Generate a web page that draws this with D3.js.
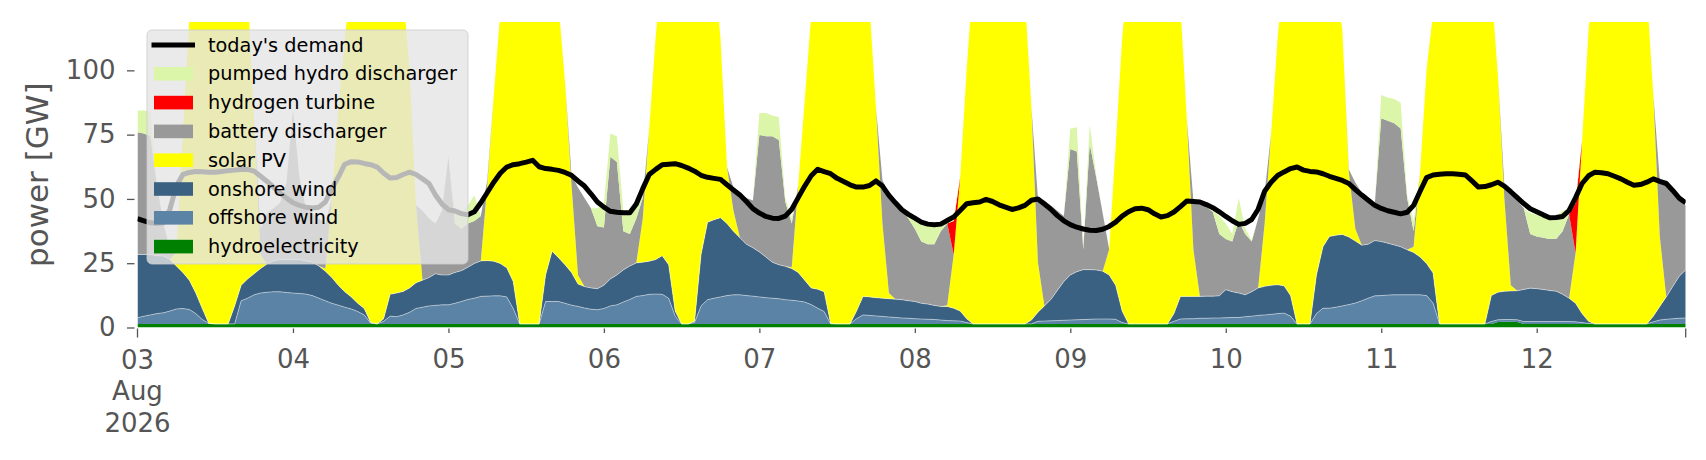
<!DOCTYPE html>
<html>
<head>
<meta charset="utf-8">
<script src="https://cdn.jsdelivr.net/npm/d3@7"></script>
<style>
  body { margin: 0; background: #fff; }
  svg { display: block; font-family: "DejaVu Sans", sans-serif; }
</style>
</head>
<body>
<svg id="chart" width="1706" height="460"></svg>
<script>
// hourly generation (GW), 03 Aug 2026 00:00 .. 12 Aug 23:00, one row per day
const hydro = [
  1.4,1.4,1.4,1.4,1.4,1.4,1.4,1.4,1.4,1.4,1.4,1.4,1.4,1.4,1.4,1.4,1.4,1.4,1.4,1.4,1.4,1.4,1.4,1.4,
  1.4,1.4,1.4,1.4,1.4,1.4,1.4,1.4,1.4,1.4,1.4,1.4,1.4,1.4,1.4,1.4,1.4,1.4,1.4,1.4,1.4,1.4,1.4,1.4,
  1.4,1.4,1.4,1.4,1.4,1.4,1.4,1.4,1.4,1.4,1.4,1.4,1.4,1.4,1.4,1.4,1.4,1.4,1.4,1.4,1.4,1.4,1.4,1.4,
  1.4,1.4,1.4,1.4,1.4,1.4,1.4,1.4,1.4,1.4,1.4,1.4,1.4,1.4,1.4,1.4,1.4,1.4,1.4,1.4,1.4,1.4,1.4,1.4,
  1.4,1.4,1.4,1.4,1.4,1.4,1.4,1.4,1.4,1.4,1.4,1.4,1.4,1.4,1.4,1.4,1.4,1.4,1.4,1.4,1.4,1.4,1.4,1.4,
  1.4,1.4,1.4,1.4,1.4,1.4,1.4,1.4,1.4,1.4,1.4,1.4,1.4,1.4,1.4,1.4,1.4,1.4,1.4,1.4,1.4,1.4,1.4,1.4,
  1.4,1.4,1.4,1.4,1.4,1.4,1.4,1.4,1.4,1.4,1.4,1.4,1.4,1.4,1.4,1.4,1.4,1.4,1.4,1.4,1.4,1.4,1.4,1.4,
  1.4,1.4,1.4,1.4,1.4,1.4,1.4,1.4,1.4,1.4,1.4,1.4,1.4,1.4,1.4,1.4,1.4,1.4,1.4,1.4,1.4,1.4,1.4,1.4,
  1.4,1.4,1.4,1.4,1.4,1.4,1.4,1.4,1.4,1.4,1.4,1.4,1.4,1.4,1.4,1.4,1.4,1.4,2.1,2.2,2.2,2.1,1.4,1.4,
  1.4,1.4,1.4,1.4,1.4,1.4,1.4,1.4,1.4,1.4,1.4,1.4,1.4,1.4,1.4,1.4,1.4,1.4,1.4,1.4,1.4,1.4,1.4,1.4
];
const offshore = [
  2.4,3.0,3.5,4.0,4.3,5.0,5.8,6.0,5.6,4.0,1.7,0.2,0,0,0,0,9.0,10.0,11.3,12.0,12.3,12.5,12.5,12.2,
  12.0,11.8,11.6,11.0,10.0,9.0,8.0,7.3,6.5,5.8,4.8,3.5,0.3,0,1.0,3.0,2.8,3.5,4.5,6.0,6.5,7.0,7.2,7.4,
  7.4,8.0,8.7,9.5,10.0,10.7,10.8,10.9,10.9,10.5,6.0,0,0,0,0,8.7,8.7,8.7,8.0,7.3,6.8,6.2,5.7,5.5,
  6.0,7.0,7.4,8.5,9.5,10.7,11.0,11.5,11.6,11.5,10.0,3.0,0,0,0.5,7.0,9.4,10.0,10.5,11.0,11.3,11.3,11.0,10.8,
  10.5,10.2,10.0,9.8,9.4,9.2,8.9,8.5,7.5,6.1,4.8,0,0,0,0,2.0,3.5,3.3,3.1,2.9,2.7,2.5,2.3,2.2,
  2.0,1.9,1.8,1.7,1.5,1.3,1.2,1.1,0.5,0,0,0,0,0,0,0,0,0,0,1.0,1.1,1.2,1.3,1.4,
  1.5,1.6,1.7,1.8,1.9,1.9,1.9,1.8,0.5,0,0,0,0,0,0,0,1.0,1.9,2.0,2.0,2.2,2.2,2.3,2.3,
  2.4,2.5,2.5,2.8,3.0,3.3,3.5,3.7,4.0,4.2,3.0,0,0,0,4.0,6.1,6.1,6.5,7.0,7.5,8.1,9.0,10.0,10.9,
  11.0,11.2,11.3,11.3,11.3,11.3,11.3,11.0,8.1,0,0,0,0,0,0,0,0,0.9,0.9,0.9,0.9,0.9,0.9,0.9,
  0.9,0.9,0.9,0.9,0.9,0.9,0.8,0.5,0.2,0,0,0,0,0,0,0,0,0,0.8,1.5,1.8,2.0,2.2,2.3
];
const onshore = [
  24.6,24.0,23.5,22.5,22.1,20.0,16.7,14.0,11.4,8.0,4.3,0,0,0,0,7.0,6.0,7.5,8.2,9.5,11.0,12.0,12.5,12.8,
  13.0,13.2,12.9,13.0,12.5,11.5,10.0,7.7,6.0,4.7,3.2,2.5,0.2,0,1.0,8.5,9.2,9.1,9.5,10.0,10.5,11.0,12.3,11.6,
  11.6,12.0,12.0,12.5,13.5,13.8,13.8,13.5,12.6,11.3,10.5,0,0,0,0,10.3,19.6,17.0,15.0,12.7,8.7,8.3,8.3,8.2,
  9.0,10.5,11.6,12.5,13.0,13.0,13.0,12.9,13.4,15.0,13.0,2.0,0,0,0.5,20.0,30.1,30.5,30.8,28.0,24.7,22.2,20.0,18.8,
  17.5,15.8,14.0,13.2,13.0,12.3,11.1,8.5,6.5,7.4,7.7,0.2,0,0,0,3.0,7.2,7.2,7.1,7.1,7.1,7.1,7.1,6.8,
  6.7,6.1,5.9,5.5,5.3,5.5,4.9,3.9,1.5,0,0,0,0,0,0,0,0,0,1.5,3.5,5.9,8.3,11.7,15.1,
  17.5,18.7,19.4,19.3,19.1,18.6,17.1,13.2,4.5,0,0,0,0,0,0,0,3.0,8.8,8.7,8.7,8.5,8.6,8.5,8.6,
  10.9,10.0,9.5,8.5,9.5,10.7,11.1,11.3,11.2,10.6,8.0,0,0,0,15.0,23.9,27.9,28.0,27.8,26.3,24.1,21.6,21.0,21.5,
  21.0,20.2,19.4,18.7,17.5,16.5,14.7,12.5,11.7,0,0,0,0,0,0,0,0,10.1,10.7,11.0,11.1,11.3,12.5,13.0,
  12.8,12.5,12.1,11.8,10.6,9.1,7.2,3.5,0.8,0,0,0,0,0,0,0,0,0,2.2,5.3,8.7,12.5,16.3,18.7
];
const solar = [
  0,0,0,0,0,0,5.5,54,102,132,153,169.8,172,170,165,152,140,112,60,5.5,0,0,0,0,
  0,0,0,0,0,1,31,69,98.5,123.5,145,155,160,162,160,150,140,116.4,85,30,0,0,0,0,
  0,0,0,0,0,0,29.4,64.6,97.5,135,150,162,165,165,160,150,138,98.3,71,34,3.5,0,0,0,
  0,0,0,0,0,0,17,51.6,87,112.5,130,150,160,165,163,140,130,98.5,69.7,22,8,0,0,0,
  0,0,0,0,0,0.5,34,70,106,130.5,150,160,165,165,160,150,140,113.5,73.8,29,2.2,0,0,0,
  0,0,0,0,0,0.5,20.9,52,97,134,150,160,165,165,160,155,145,127,82.5,19.5,0,0,0,0,
  0,0,0,0,0,0,10,54,106,139,150,160,165,165,160,150,140,113.3,68.3,18.3,0,0,0,0,
  0,0,0,0,0,0,24.4,59,95.8,124.2,138,150,160,165,160,150,140,99.5,79.2,25.2,4.8,0,0,0,
  0,0,0,0,0,2.2,33,75.5,101.2,145,155,162,165,165,160,150,140,120,84.6,36.3,2.2,0,0,0,
  0,0,0,0,0,0,19.6,67,113,144,155,162,165,165,160,155,145,129,86,27.2,0,0,0,0
];
const battery = [
  47.5,47,46,27.5,12.6,4,0,0,0,0,0,0,0,0,0,0,0,0,0,10,19.7,20.5,22,30,
  58,32,20.5,19,18.5,17.5,0,0,0,0,0,0,0,0,0,0,0,0,0,0,27,23,19.5,25,
  46,19,16.3,17,16.5,17.5,2,0,0,0,0,0,0,0,0,0,0,0,0,4,34,34.5,31,24.3,
  22.5,47.5,44,15,12.5,17.3,8,0,0,0,0,0,0,0,0,0,0,0,0,0,9,17,18,18.4,
  45.5,47,49,48.5,25.1,17,0,0,0,0,0,0,0,0,0,0,0,0,0,17,38.5,37.4,34.6,32,
  28.3,24,23.3,23.8,29.2,31.7,0,0,0,0,0,0,0,0,0,0,0,0,0,25,41,36.5,31,25.5,
  49,46.7,7.9,48.9,36,22.5,0,0,0,0,0,0,0,0,0,0,0,0,0,19,36.3,34.7,32.7,24.1,
  19.7,19.5,28,23.7,19.5,27,12,0,0,0,0,0,0,0,0,0,0,0,0,1,18,20.4,17.5,14.1,
  48,47.6,47.3,46,20.2,6,0,0,0,0,0,0,0,0,0,0,0,0,0,5,36,35,31.6,21.1,
  20.3,20.1,20,20.3,24.5,32.6,0,0,0,0,0,0,0,0,0,0,0,0,0,22,44,38,30.5,25
];
const hydrogen = [
  0,0,0,0,0,0,0,0,0,0,0,0,0,0,0,0,0,0,0,0,0,0,0,0,
  0,0,0,0,0,0,0,0,0,0,0,0,0,0,0,0,0,0,0,0,0,0,0,0,
  0,0,0,0,0,0,0,0,0,0,0,0,0,0,0,0,0,0,0,0,0,0,0,0,
  0,0,0,0,0,0,0,0,0,0,0,0,0,0,0,0,0,0,0,0,0,0,0,0,
  0,0,0,0,0,0,0,0,0,0,0,0,0,0,0,0,0,0,0,0,0,0,0,0,
  0,0,0,0,0,0,13,0,0,0,0,0,0,0,0,0,0,0,0,0,0,0,0,0,
  0,0,0,0,0,0,0,0,0,0,0,0,0,0,0,0,0,0,0,0,0,0,0,0,
  0,0,0,0,0,0,0,0,0,0,0,0,0,0,0,0,0,0,0,0,0,0,0,0,
  0,0,0,0,0,0,0,0,0,0,0,0,0,0,0,0,0,0,0,0,0,0,0,0,
  0,0,0,0,0,0,19.4,0,0,0,0,0,0,0,0,0,0,0,0,0,0,0,0,0
];
const pumped = [
  8.5,9,9.5,0,0,0,0,0,0,0,0,0,0,0,0,0,0,0,0,0,0,0,0,0,
  0,0,0,0,0,0,0,0,0,0,0,0,0,0,0,0,0,0,0,0,0,0,0,0,
  1,4,6,7,10,0,0,0,0,0,0,0,0,0,0,0,0,0,0,0,0,0,0,7,
  9.5,9,10,8,8,4,1,0,0,0,0,0,0,0,0,0,0,0,0,0,0,0,0,0,
  8.5,9,8,9,1.5,2,0,0,0,0,0,0,0,0,0,0,0,0,0,0,0,0,0,1,
  4,8,8.5,8,3,1.5,2,0,0,0,0,0,0,0,0,0,0,0,0,0,0,0,0,0,
  8,9.5,1,7.5,1,0,0,0,0,0,0,0,0,0,0,0,0,0,0,0,0,0,0.5,7,
  6,3,9,2,0.5,0,0,0,0,0,0,0,0,0,0,0,0,0,0,0,0,0,0,0,
  9,9,9.5,10,1,4,0,0,0,0,0,0,0,0,0,0,0,0,0,0,0,0,0,8,
  8.5,8.5,8.5,9,8,2.4,2,0,0,0,0,0,0,0,0,0,0,0,0,0,0,0,0,0
];
const demand = [
  42.3,41.5,40.7,40.5,40.7,46,55,59.5,60.3,60.7,60.6,60.4,60.4,60.7,61,61.2,61.4,61.5,60.8,58.8,56.8,54.6,52.3,50.3,
  48.5,47.5,46.8,46.5,46.8,48.8,54,58.5,63.5,64.5,64.4,63.8,63.3,62.4,60,58.1,58.3,59.5,60.4,59.5,57.8,56,51.5,48,
  45.8,45.3,44.3,43.8,45,48.5,52.5,56.5,60,62.4,63.3,63.7,64.3,65,62.5,61.8,61.5,61.1,60.3,59.2,57,55,52,48.8,
  46.8,45.2,44.8,44.6,44.6,48,54,59.5,61.5,63.3,63.5,63.7,63,62,60.8,59.2,58.4,58,57.6,55.5,53.5,51.5,49,46.2,
  44.5,43.2,42.5,42.4,43.3,46,50.5,55,59,61.5,60.6,59.8,58,56.8,55.5,54.6,54.6,55.2,57,55,51.4,48.5,45.8,44,
  42.5,41,40.2,40,40.2,41.6,43,45.5,48.1,48.5,48.8,49.8,49,47.7,46.8,45.9,46.5,47.5,49.5,50,48,46,43.5,41.5,
  40,39,38.3,37.8,37.7,38.2,39.3,41,43.3,45,46.2,46.4,45.8,44.2,43,43.5,44.9,47,49.2,49,48.8,47.8,46.6,45,
  43.2,41.5,40.1,40.5,42,46,53,56.5,59.1,60.5,61.8,62.4,61.2,60.7,60.5,59.8,58.8,58,57.2,56,53.6,51.5,49.5,47.5,
  46.3,45.4,44.8,44.2,44.8,47.5,53,58.3,59.3,59.6,59.8,59.8,59.6,59.3,57,54.6,54.8,55.5,56.5,55,52.8,50.5,48.2,46.2,
  45,43.8,42.7,42.8,43.2,45.5,50.5,56,59,60.4,60.2,59.8,58.8,57.8,56.5,55.3,55.6,56.5,57.8,56.8,56,53.3,50.3,48.5
];

const keys = ['hydro', 'offshore', 'onshore', 'solar', 'battery', 'hydrogen', 'pumped'];
const colors = {
  hydro: '#008000', offshore: '#5b83a6', onshore: '#3b6182', solar: '#ffff00',
  battery: '#999999', hydrogen: '#ff0000', pumped: '#dbf5a9'
};
// legend, top to bottom
const legendKeys = ['demand', 'pumped', 'hydrogen', 'battery', 'solar', 'onshore', 'offshore', 'hydro'];
const legendLabels = ["today's demand", 'pumped hydro discharger', 'hydrogen turbine',
  'battery discharger', 'solar PV', 'onshore wind', 'offshore wind', 'hydroelectricity'];
const yTicks = [0, 25, 50, 75, 100];
const xTickLabels = ['04', '05', '06', '07', '08', '09', '10', '11', '12'];
const firstLabel = ['03', 'Aug', '2026'];

const t0 = new Date(Date.UTC(2026, 7, 3));
const times = d3.utcHour.range(t0, d3.utcHour.offset(t0, demand.length));
const rows = times.map((t, i) => ({
  time: t, hydro: hydro[i], offshore: offshore[i], onshore: onshore[i], solar: solar[i],
  battery: battery[i], hydrogen: hydrogen[i], pumped: pumped[i], demand: demand[i]
}));

const plotLeft = 137.5, plotRight = 1685.7, plotTop = 22, plotBottom = 327.5;
const x = d3.scaleUtc().domain([times[0], times[times.length - 1]]).range([plotLeft, plotRight]);
const y = d3.scaleLinear().domain([0, 118.8]).range([plotBottom, plotTop]);

const svg = d3.select('#chart');

svg.append('defs').append('clipPath').attr('id', 'plotclip')
  .append('rect').attr('x', plotLeft).attr('y', plotTop)
  .attr('width', plotRight - plotLeft).attr('height', plotBottom - plotTop);

const plot = svg.append('g').attr('clip-path', 'url(#plotclip)');

const series = d3.stack().keys(keys)(rows);
const area = d3.area()
  .x(d => x(d.data.time))
  .y0(d => y(d[0]))
  .y1(d => y(d[1]));

plot.selectAll('path.layer')
  .data(series)
  .join('path')
  .attr('class', 'layer')
  .attr('fill', d => colors[d.key])
  .attr('d', area);

// faint light seams where the filled layers meet
const seam = d3.line().x(d => x(d.data.time)).y(d => y(d[1]));
plot.selectAll('path.seam')
  .data(series.filter(s => s.key === 'offshore' || s.key === 'onshore'))
  .join('path')
  .attr('class', 'seam')
  .attr('fill', 'none')
  .attr('stroke', '#ffffff')
  .attr('stroke-opacity', 0.45)
  .attr('stroke-width', 1)
  .attr('d', seam);

const line = d3.line().x(d => x(d.time)).y(d => y(d.demand));
plot.append('path')
  .datum(rows)
  .attr('fill', 'none')
  .attr('stroke', '#000')
  .attr('stroke-width', 5)
  .attr('stroke-linejoin', 'round')
  .attr('d', line);

// y axis
const yAxis = svg.append('g')
  .attr('transform', 'translate(134.5,0)')
  .call(d3.axisLeft(y).tickValues(yTicks).tickSize(7.5).tickPadding(11.5));
yAxis.select('.domain').remove();
yAxis.selectAll('line').attr('stroke', '#555').attr('stroke-width', 1.3);
yAxis.selectAll('text').attr('fill', '#555').style('font-size', '26px')
  .style('font-family', '"DejaVu Sans", sans-serif');

// x axis: day ticks, plus the longer ticks at both ends
const dayTicks = d3.utcDay.range(d3.utcDay.offset(t0, 1), d3.utcDay.offset(t0, 10));
const xAxis = svg.append('g')
  .attr('transform', `translate(0,${plotBottom + 1})`)
  .call(d3.axisBottom(x).tickValues(dayTicks).tickSize(4.5).tickPadding(16.5)
    .tickFormat((d, i) => xTickLabels[i]));
xAxis.select('.domain').remove();
xAxis.selectAll('line').attr('stroke', '#555').attr('stroke-width', 1.3);
xAxis.selectAll('text').attr('fill', '#555').style('font-size', '26px')
  .style('font-family', '"DejaVu Sans", sans-serif');

const ends = [times[0], times[times.length - 1]];
svg.append('g').selectAll('line')
  .data(ends)
  .join('line')
  .attr('x1', d => x(d)).attr('x2', d => x(d))
  .attr('y1', plotBottom + 1).attr('y2', plotBottom + 10)
  .attr('stroke', '#555').attr('stroke-width', 1.3);

const first = svg.append('text')
  .attr('x', x(times[0]))
  .attr('text-anchor', 'middle')
  .attr('fill', '#555')
  .style('font-size', '26px');
first.selectAll('tspan')
  .data(firstLabel)
  .join('tspan')
  .attr('x', x(times[0]))
  .attr('y', (d, i) => plotBottom + 41 + i * 31.7)
  .text(d => d);

// y label
svg.append('text')
  .attr('transform', `translate(37,${(plotTop + plotBottom) / 2}) rotate(-90)`)
  .attr('text-anchor', 'middle')
  .attr('dominant-baseline', 'central')
  .attr('fill', '#555')
  .style('font-size', '31px')
  .text('power [GW]');

// legend
const legend = svg.append('g').attr('transform', 'translate(147,30)');
legend.append('rect')
  .attr('width', 321).attr('height', 234).attr('rx', 5)
  .attr('fill', '#e5e5e5').attr('fill-opacity', 0.8)
  .attr('stroke', '#cccccc').attr('stroke-opacity', 0.8);

const items = legend.selectAll('g.item')
  .data(legendKeys)
  .join('g')
  .attr('class', 'item')
  .attr('transform', (d, i) => `translate(0,${15 + i * 28.8})`);

items.filter(d => d === 'demand').append('line')
  .attr('x1', 4.5).attr('x2', 48).attr('y1', 0).attr('y2', 0)
  .attr('stroke', '#000').attr('stroke-width', 5);
items.filter(d => d !== 'demand').append('rect')
  .attr('x', 7).attr('y', -6.8).attr('width', 39).attr('height', 13.6)
  .attr('fill', d => colors[d]);
items.append('text')
  .attr('x', 61).attr('y', 0)
  .attr('dominant-baseline', 'central')
  .attr('fill', '#000')
  .style('font-size', '19.3px')
  .text((d, i) => legendLabels[i]);
</script>
</body>
</html>
